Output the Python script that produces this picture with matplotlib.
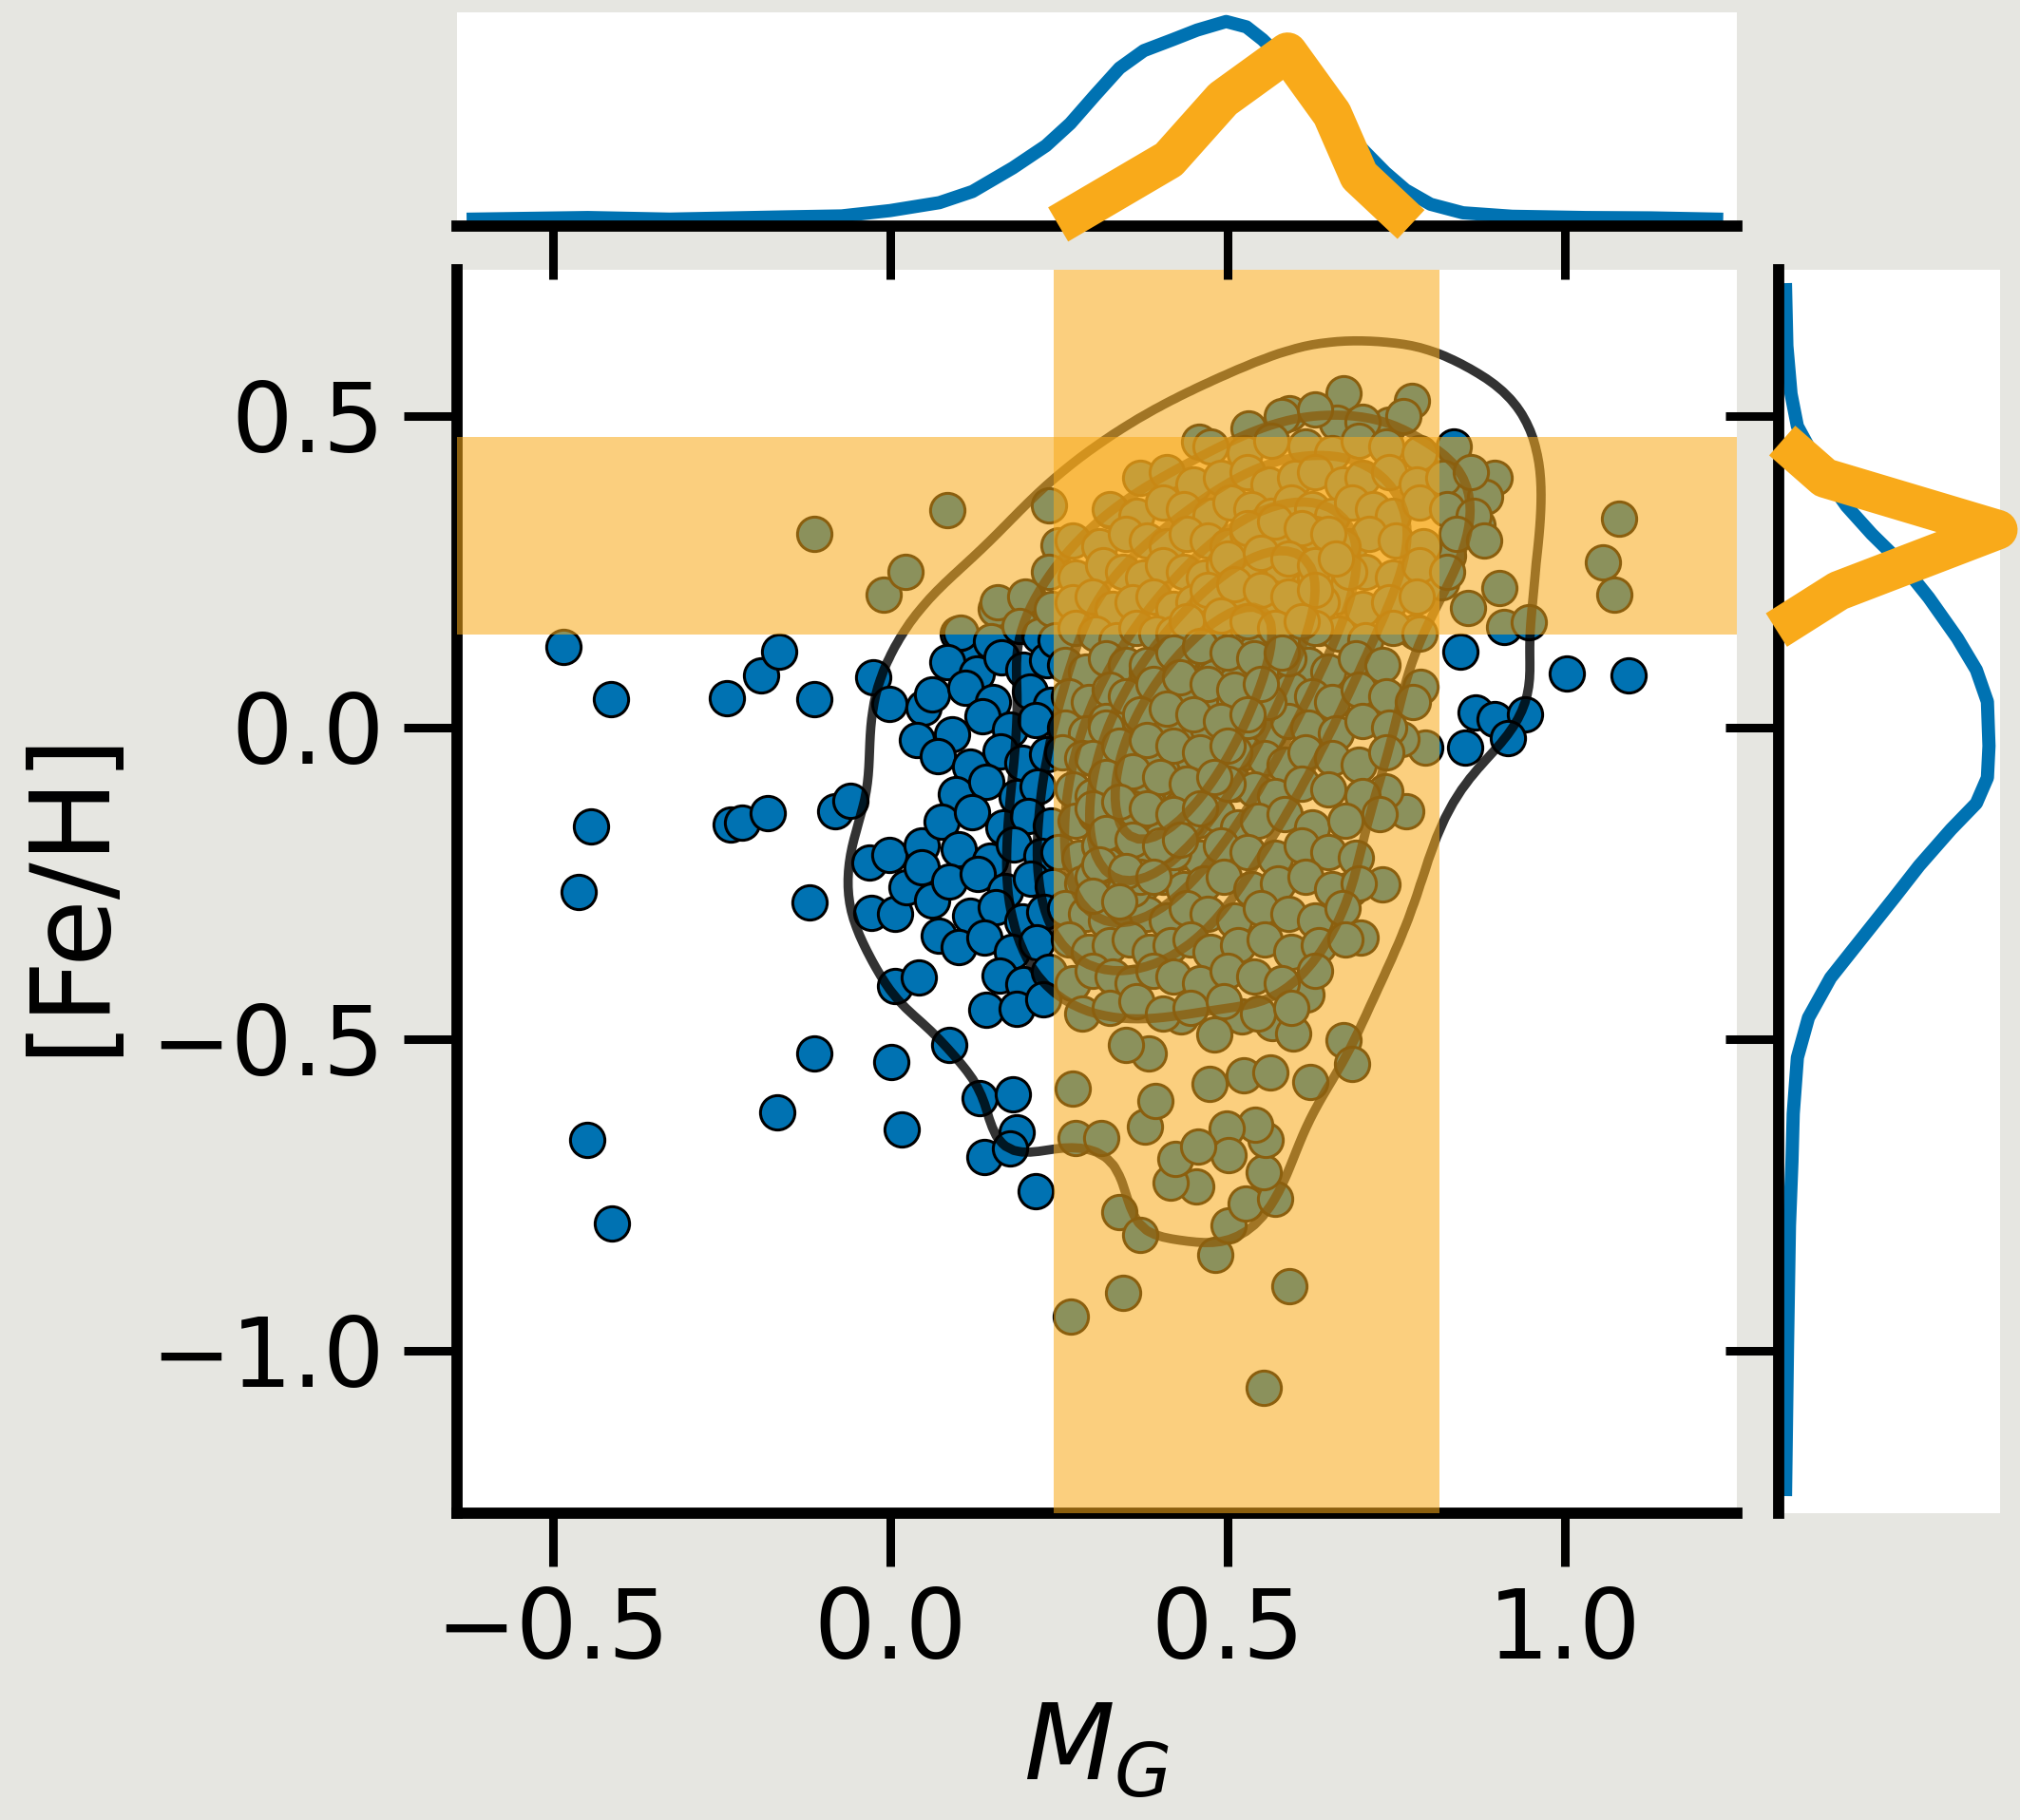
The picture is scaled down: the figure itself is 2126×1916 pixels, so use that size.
import numpy as np
import matplotlib
matplotlib.use("Agg")
import matplotlib.pyplot as plt

# ---- stars: (M_G, [Fe/H]) ----
halo_left = [(-0.484, 0.129), (-0.414, 0.045), (-0.443, -0.159), (-0.462, -0.264), (-0.449, -0.662),
             (-0.412, -0.796), (-0.242, 0.046), (-0.192, 0.083), (-0.165, 0.121), (-0.113, 0.045),
             (-0.237, -0.156), (-0.220, -0.153), (-0.182, -0.138), (-0.082, -0.135), (-0.059, -0.118),
             (-0.120, -0.281), (-0.113, -0.523), (-0.167, -0.618), (-0.025, 0.080), (-0.001, 0.037),
             (0.049, 0.031), (0.039, -0.020), (-0.031, -0.217), (-0.001, -0.205), (-0.028, -0.298),
             (0.007, -0.300), (0.024, -0.257), (0.046, -0.190), (0.046, -0.224), (0.062, -0.278),
             (0.072, -0.335), (0.007, -0.415), (0.042, -0.402), (0.087, -0.510), (0.001, -0.537),
             (0.017, -0.646), (0.132, -0.595), (0.140, -0.690), (0.143, -0.453), (0.182, -0.589),
             (0.187, -0.650), (0.177, -0.676), (0.216, -0.745), (0.107, 0.123), (0.100, 0.150)]
band_left = [(-0.113, 0.310), (-0.010, 0.213), (0.023, 0.250), (0.084, 0.349), (0.157, 0.190),
             (0.204, 0.208), (0.235, 0.356), (0.249, 0.292), (0.328, 0.347)]
halo_right = [(1.003, 0.086), (1.094, 0.083), (0.845, 0.121), (0.868, 0.024), (0.896, 0.013),
              (0.941, 0.020), (0.915, -0.017), (0.852, -0.033), (1.080, 0.335), (1.056, 0.264),
              (1.073, 0.213), (0.903, 0.223), (0.910, 0.161), (0.947, 0.168), (0.896, 0.400),
              (0.870, 0.324), (0.839, 0.370), (0.882, 0.369), (0.834, 0.440), (0.856, 0.191),
              (0.827, 0.275), (0.817, 0.232), (0.779, 0.153), (0.793, -0.033), (0.758, -0.019),
              (0.786, 0.065), (0.765, -0.134), (0.708, -0.117), (0.734, -0.103), (0.682, -0.259),
              (0.730, -0.252), (0.697, -0.338), (0.617, -0.429)]
halo_top = [(0.672, 0.536), (0.773, 0.524), (0.592, 0.504), (0.662, 0.489), (0.740, 0.486),
            (0.531, 0.479), (0.458, 0.458), (0.833, 0.440)]
halo_bottom = [(0.270, -0.580), (0.275, -0.659), (0.313, -0.659), (0.340, -0.778), (0.370, -0.815),
               (0.268, -0.946), (0.345, -0.908), (0.482, -0.847), (0.592, -0.896), (0.554, -1.060),
               (0.501, -0.799), (0.527, -0.764), (0.570, -0.756), (0.554, -0.714), (0.556, -0.662),
               (0.541, -0.638), (0.499, -0.643), (0.501, -0.687), (0.453, -0.736), (0.416, -0.731),
               (0.423, -0.693), (0.456, -0.673), (0.378, -0.641), (0.393, -0.600), (0.473, -0.572),
               (0.524, -0.559), (0.564, -0.554), (0.622, -0.569), (0.672, -0.502), (0.685, -0.540),
               (0.383, -0.524), (0.350, -0.510), (0.431, -0.464), (0.521, -0.464), (0.566, -0.475),
               (0.597, -0.491), (0.481, -0.493)]

# blue clump left of the M_G window (visible discs, little hidden overlap)
core_blue = [(0.16, 0.20), (0.20, 0.21), (0.105, 0.152), (0.150, 0.138), (0.192, 0.163), (0.222, 0.147),
             (0.085, 0.104), (0.128, 0.087), (0.165, 0.112), (0.198, 0.093), (0.232, 0.108),
             (0.062, 0.052), (0.112, 0.064), (0.152, 0.041), (0.207, 0.058), (0.238, 0.036),
             (0.092, -0.012), (0.137, 0.018), (0.178, -0.004), (0.215, 0.011),
             (0.071, -0.046), (0.118, -0.063), (0.163, -0.038), (0.196, -0.057), (0.232, -0.044),
             (0.098, -0.108), (0.142, -0.087), (0.187, -0.112), (0.218, -0.095),
             (0.076, -0.152), (0.121, -0.137), (0.168, -0.161), (0.205, -0.143), (0.238, -0.158),
             (0.102, -0.196), (0.148, -0.214), (0.183, -0.188), (0.224, -0.207),
             (0.088, -0.247), (0.130, -0.236), (0.171, -0.262), (0.209, -0.243), (0.241, -0.255),
             (0.118, -0.303), (0.157, -0.288), (0.196, -0.311), (0.229, -0.296),
             (0.101, -0.352), (0.139, -0.338), (0.181, -0.361), (0.217, -0.345),
             (0.162, -0.398), (0.198, -0.412), (0.236, -0.392), (0.188, -0.451), (0.227, -0.437)]
# crowded core inside the window (each disc here hides further stars underneath)
core_top = [(0.58, 0.50), (0.63, 0.51), (0.70, 0.49), (0.76, 0.50),
            (0.475, 0.45), (0.525, 0.44), (0.565, 0.46), (0.615, 0.45), (0.655, 0.44), (0.695, 0.46),
            (0.735, 0.45), (0.785, 0.44), (0.835, 0.45),
            (0.37, 0.40), (0.41, 0.41), (0.45, 0.39), (0.49, 0.40), (0.53, 0.41), (0.56, 0.39),
            (0.60, 0.40), (0.63, 0.41), (0.67, 0.39), (0.70, 0.40), (0.74, 0.41), (0.78, 0.39),
            (0.82, 0.40), (0.86, 0.41),
            (0.325, 0.35), (0.365, 0.34), (0.405, 0.36), (0.435, 0.35), (0.475, 0.34), (0.505, 0.36),
            (0.535, 0.35), (0.565, 0.34), (0.595, 0.36), (0.625, 0.35), (0.655, 0.34), (0.685, 0.36),
            (0.715, 0.35), (0.745, 0.34), (0.785, 0.36), (0.825, 0.35), (0.865, 0.34),
            (0.27, 0.30), (0.31, 0.29), (0.35, 0.31), (0.38, 0.30), (0.41, 0.29), (0.44, 0.31),
            (0.47, 0.30), (0.50, 0.29), (0.53, 0.31), (0.56, 0.30), (0.59, 0.29), (0.62, 0.31),
            (0.65, 0.30), (0.68, 0.29), (0.71, 0.31), (0.75, 0.30), (0.79, 0.29), (0.84, 0.31),
            (0.88, 0.30),
            (0.235, 0.25), (0.275, 0.24), (0.315, 0.26), (0.345, 0.25), (0.375, 0.24), (0.405, 0.26),
            (0.435, 0.25), (0.465, 0.24), (0.495, 0.26), (0.525, 0.25), (0.555, 0.24), (0.585, 0.26),
            (0.615, 0.25), (0.645, 0.24), (0.675, 0.26), (0.705, 0.25), (0.745, 0.24), (0.785, 0.26),
            (0.825, 0.25),
            (0.24, 0.19), (0.27, 0.20), (0.30, 0.21), (0.33, 0.19),
            (0.36, 0.20), (0.39, 0.21), (0.42, 0.19), (0.45, 0.20), (0.48, 0.21), (0.51, 0.19),
            (0.54, 0.20), (0.57, 0.21), (0.60, 0.19), (0.63, 0.20), (0.66, 0.21), (0.70, 0.19),
            (0.74, 0.20), (0.78, 0.21)]
core_mid = [(0.245, 0.14), (0.275, 0.16),
            (0.305, 0.15), (0.335, 0.14), (0.365, 0.16), (0.395, 0.15), (0.425, 0.14), (0.455, 0.16),
            (0.485, 0.15), (0.515, 0.14), (0.545, 0.16), (0.575, 0.15), (0.605, 0.14), (0.635, 0.16),
            (0.665, 0.15), (0.705, 0.14), (0.745, 0.16), (0.785, 0.15),
            (0.26, 0.10), (0.29, 0.09), (0.32, 0.11), (0.35, 0.10), (0.38, 0.09), (0.41, 0.11),
            (0.44, 0.10), (0.47, 0.09), (0.50, 0.11), (0.53, 0.10), (0.56, 0.09), (0.59, 0.11),
            (0.62, 0.10), (0.65, 0.09), (0.69, 0.11), (0.73, 0.10),
            (0.265, 0.05), (0.295, 0.04),
            (0.325, 0.06), (0.355, 0.05), (0.385, 0.04), (0.415, 0.06), (0.445, 0.05), (0.475, 0.04),
            (0.505, 0.06), (0.535, 0.05), (0.565, 0.04), (0.595, 0.06), (0.625, 0.05), (0.655, 0.04),
            (0.695, 0.06), (0.735, 0.05), (0.775, 0.04),
            (0.26, 0.00), (0.29, -0.01), (0.32, 0.01), (0.35, 0.00), (0.38, -0.01), (0.41, 0.01),
            (0.44, 0.00), (0.47, -0.01), (0.50, 0.01), (0.53, 0.00), (0.56, -0.01), (0.59, 0.01),
            (0.62, 0.00), (0.66, -0.01), (0.70, 0.01), (0.74, 0.00),
            (0.255, -0.04), (0.285, -0.05),
            (0.315, -0.06), (0.345, -0.04), (0.375, -0.05), (0.405, -0.06), (0.435, -0.04),
            (0.465, -0.05), (0.495, -0.06), (0.525, -0.04), (0.555, -0.05), (0.585, -0.06),
            (0.615, -0.04), (0.655, -0.05), (0.695, -0.06), (0.735, -0.04),
            (0.27, -0.10), (0.30, -0.11), (0.33, -0.09), (0.36, -0.10), (0.39, -0.11), (0.42, -0.09),
            (0.45, -0.10), (0.48, -0.11), (0.51, -0.09), (0.54, -0.10), (0.57, -0.11), (0.61, -0.09),
            (0.65, -0.10), (0.70, -0.11)]
core_low = [(0.275, -0.15),
            (0.305, -0.14), (0.335, -0.16), (0.365, -0.15), (0.395, -0.14), (0.425, -0.16),
            (0.455, -0.15), (0.485, -0.14), (0.515, -0.16), (0.545, -0.15), (0.585, -0.14),
            (0.625, -0.16), (0.675, -0.15), (0.725, -0.14),
            (0.25, -0.20), (0.28, -0.21), (0.31, -0.19), (0.34, -0.20), (0.37, -0.21), (0.40, -0.19),
            (0.43, -0.20), (0.46, -0.21), (0.49, -0.19), (0.53, -0.20), (0.57, -0.21), (0.61, -0.19),
            (0.65, -0.20), (0.69, -0.21),
            (0.285, -0.25),
            (0.315, -0.24), (0.345, -0.26), (0.375, -0.25), (0.405, -0.24), (0.435, -0.26),
            (0.465, -0.25), (0.495, -0.24), (0.535, -0.26), (0.575, -0.25), (0.615, -0.24),
            (0.655, -0.26), (0.695, -0.25),
            (0.26, -0.29),
            (0.29, -0.30), (0.32, -0.31), (0.35, -0.29), (0.38, -0.30), (0.41, -0.31), (0.44, -0.29),
            (0.47, -0.30), (0.51, -0.31), (0.55, -0.29), (0.59, -0.30), (0.63, -0.31), (0.67, -0.29),
            (0.265, -0.34), (0.295, -0.36),
            (0.325, -0.35), (0.355, -0.34), (0.385, -0.36), (0.415, -0.35), (0.445, -0.34),
            (0.475, -0.36), (0.515, -0.35), (0.555, -0.34), (0.595, -0.36), (0.635, -0.35),
            (0.675, -0.34),
            (0.27, -0.41), (0.30, -0.39),
            (0.33, -0.40), (0.36, -0.41), (0.39, -0.39), (0.42, -0.40), (0.46, -0.41), (0.50, -0.39),
            (0.54, -0.40), (0.58, -0.41), (0.63, -0.39),
            (0.285, -0.46), (0.325, -0.45), (0.365, -0.44),
            (0.405, -0.46), (0.445, -0.45), (0.495, -0.44), (0.545, -0.46), (0.595, -0.45)]
core_peak = [(0.58, 0.30), (0.63, 0.31), (0.67, 0.29), (0.53, 0.25), (0.58, 0.26), (0.63, 0.24),
             (0.68, 0.25), (0.47, 0.20), (0.53, 0.21), (0.58, 0.19), (0.64, 0.20), (0.42, 0.15),
             (0.47, 0.16), (0.52, 0.14), (0.58, 0.15), (0.63, 0.16), (0.38, 0.10), (0.43, 0.11),
             (0.48, 0.09), (0.53, 0.10), (0.59, 0.11), (0.35, 0.05), (0.40, 0.04), (0.45, 0.06),
             (0.50, 0.05), (0.56, 0.04), (0.32, 0.00), (0.37, 0.01), (0.43, -0.01), (0.48, 0.00),
             (0.53, 0.01), (0.30, -0.05), (0.35, -0.04), (0.41, -0.06), (0.46, -0.05), (0.51, -0.04),
             (0.34, -0.09), (0.39, -0.11), (0.45, -0.10), (0.50, -0.09),
             (0.33, -0.14), (0.38, -0.16), (0.44, -0.15), (0.31, -0.19), (0.37, -0.21),
             (0.42, -0.20), (0.30, -0.24), (0.36, -0.26),
             (0.40, -0.06), (0.44, 0.00), (0.47, 0.05), (0.42, -0.10), (0.38, -0.14), (0.50, 0.10),
             (0.45, -0.04), (0.40, 0.02), (0.36, -0.08), (0.52, 0.14), (0.48, -0.02), (0.43, 0.06)]
core_ridge = [(0.32, -0.22), (0.35, -0.16), (0.38, -0.11), (0.41, -0.05), (0.44, 0.00), (0.47, 0.05),
              (0.50, 0.11), (0.53, 0.16), (0.56, 0.21), (0.31, -0.14), (0.34, -0.09),
              (0.37, -0.03), (0.40, 0.02), (0.43, 0.07), (0.46, 0.13), (0.49, 0.18), (0.37, -0.24),
              (0.40, -0.18), (0.43, -0.13), (0.46, -0.07), (0.49, -0.02), (0.52, 0.03), (0.55, 0.09),
              (0.58, 0.14), (0.38, -0.12), (0.40, -0.08), (0.42, -0.04), (0.44, 0.01), (0.46, 0.04),
              (0.48, 0.08), (0.41, -0.01), (0.45, -0.05), (0.43, 0.04), (0.39, -0.04), (0.47, 0.00),
              (0.44, -0.09), (0.51, 0.07), (0.36, -0.13), (0.54, 0.12)]
core_dense = [(0.53, 0.32), (0.57, 0.33), (0.61, 0.32), (0.65, 0.31),
              (0.50, 0.27), (0.55, 0.28), (0.59, 0.27), (0.63, 0.26), (0.66, 0.27),
              (0.47, 0.22), (0.51, 0.23), (0.55, 0.22), (0.59, 0.21), (0.63, 0.22),
              (0.44, 0.17), (0.49, 0.18), (0.53, 0.17), (0.57, 0.16), (0.61, 0.17),
              (0.42, 0.12), (0.46, 0.13), (0.50, 0.12), (0.54, 0.11), (0.58, 0.12),
              (0.39, 0.07), (0.43, 0.08), (0.47, 0.07), (0.51, 0.06), (0.55, 0.07),
              (0.37, 0.02), (0.41, 0.03), (0.45, 0.02), (0.49, 0.01), (0.53, 0.02),
              (0.34, -0.03), (0.38, -0.02), (0.42, -0.03), (0.46, -0.04), (0.50, -0.03),
              (0.32, -0.08), (0.36, -0.07), (0.40, -0.08), (0.44, -0.09), (0.48, -0.08),
              (0.30, -0.13), (0.34, -0.12), (0.38, -0.13), (0.42, -0.14), (0.46, -0.13),
              (0.32, -0.17), (0.36, -0.18), (0.40, -0.19), (0.43, -0.18),
              (0.31, -0.22), (0.35, -0.23), (0.39, -0.24), (0.30, -0.27), (0.34, -0.28)]

# ---- marginal curves ----
top_x = [-0.618, -0.448, -0.327, -0.157, -0.072, 0.000, 0.073, 0.122, 0.182, 0.231, 0.267, 0.304,
         0.340, 0.376, 0.419, 0.455, 0.498, 0.528, 0.552, 0.583, 0.613, 0.643, 0.673, 0.704,
         0.734, 0.764, 0.801, 0.849, 0.922, 1.031, 1.128, 1.225]
top_dens = [0.078, 0.096, 0.078, 0.103, 0.114, 0.174, 0.263, 0.388, 0.654, 0.903, 1.152, 1.472,
            1.774, 1.970, 2.094, 2.201, 2.297, 2.237, 2.094, 1.863, 1.614, 1.330, 1.081, 0.832,
            0.601, 0.405, 0.245, 0.149, 0.110, 0.096, 0.092, 0.078]
top_sel_x = [0.249, 0.413, 0.493, 0.589, 0.655, 0.695, 0.772]
top_sel_dens = [0.018, 0.747, 1.426, 1.952, 1.259, 0.565, 0.018]

right_y = [0.702, 0.612, 0.535, 0.483, 0.413, 0.355, 0.310, 0.265, 0.208, 0.143, 0.092, 0.041,
           -0.030, -0.081, -0.122, -0.164, -0.222, -0.274, -0.338, -0.402, -0.466, -0.530,
           -0.620, -0.697, -0.800, -0.992, -1.223]
right_dens = [0.075, 0.089, 0.134, 0.203, 0.460, 0.735, 1.009, 1.318, 1.627, 1.937, 2.143, 2.263,
              2.280, 2.263, 2.143, 1.868, 1.524, 1.250, 0.906, 0.563, 0.323, 0.203,
              0.158, 0.144, 0.117, 0.096, 0.075]
right_sel_y = [0.460, 0.400, 0.317, 0.219, 0.156]
right_sel_dens = [0.038, 0.50, 2.376, 0.649, -0.024]

# selection windows
mg_window = (0.242, 0.814)
feh_window = (0.149, 0.466)

BLUE = "#0072B2"
ORANGE = "#F9AA1A"
BG = "#e6e6e1"

sparse = halo_left + band_left + halo_right + halo_top + halo_bottom + core_blue
crowded = core_top + core_mid + core_low
crowded_center = core_peak + core_ridge + core_dense
pts = np.array(sparse + crowded + crowded_center)
wts = np.r_[np.ones(len(sparse)), np.full(len(crowded), 2.0), np.full(len(crowded_center), 3.0)]
mg, feh = pts[:, 0], pts[:, 1]

# weighted gaussian kde (scott bandwidth), like seaborn's kdeplot
gx = np.linspace(-0.8, 1.4, 180)
gy = np.linspace(-1.4, 0.9, 180)
XX, YY = np.meshgrid(gx, gy)
wn = wts / wts.sum()
neff = 1.0 / np.sum(wn ** 2)
kcov = np.cov(pts.T, aweights=wts) * neff ** (-1.0 / 3)
inv = np.linalg.inv(kcov)
Z = np.zeros_like(XX)
for (px, py), w in zip(pts, wn):
    dx = XX - px
    dy = YY - py
    Z += w * np.exp(-0.5 * (inv[0, 0] * dx * dx + 2 * inv[0, 1] * dx * dy + inv[1, 1] * dy * dy))
Z /= 2 * np.pi * np.sqrt(np.linalg.det(kcov))

isoprop = np.array([0.05, 0.2, 0.35, 0.5, 0.65, 0.8])
vals = np.sort(Z.ravel())[::-1]
cum = np.cumsum(vals) / vals.sum()
levels = np.sort(vals[np.clip(np.searchsorted(cum, 1 - isoprop), 0, len(vals) - 1)])

W, H, DPI = 2126, 1916, 100
fig = plt.figure(figsize=(W / DPI, H / DPI), dpi=DPI, facecolor=BG)

ax = fig.add_axes([481 / W, 1 - 1593 / H, (1828 - 481) / W, (1593 - 284) / H])
ax_top = fig.add_axes([481 / W, 1 - 238 / H, (1828 - 481) / W, (238 - 13) / H], sharex=ax)
ax_right = fig.add_axes([1872 / W, 1 - 1593 / H, (2105 - 1872) / W, (1593 - 284) / H], sharey=ax)

for a in (ax, ax_top, ax_right):
    a.set_facecolor("white")
    for s in a.spines.values():
        s.set_linewidth(8.5)
    a.tick_params(length=40, width=6.5, direction="out", labelsize=73, pad=15)

ax.scatter(mg, feh, s=680, c=BLUE, edgecolors="black", linewidths=2.2, zorder=2)
ax.contour(gx, gy, Z, levels=levels, colors="black", linewidths=7, alpha=0.8, zorder=3)
ax.axvspan(*mg_window, color=ORANGE, alpha=0.56, lw=0, zorder=4)
ax.axhspan(*feh_window, color=ORANGE, alpha=0.56, lw=0, zorder=4)

ax.set_xlim(-0.642, 1.255)
ax.set_ylim(-1.261, 0.734)
ax.set_xticks([-0.5, 0.0, 0.5, 1.0])
ax.set_yticks([-1.0, -0.5, 0.0, 0.5])
ax.spines["top"].set_visible(False)
ax.spines["right"].set_visible(False)
ax.set_xlabel("$M_G$", fontsize=80, labelpad=15)
ax.set_ylabel("[Fe/H]", fontsize=83, labelpad=20)

ax_top.plot(top_x, top_dens, color=BLUE, lw=10, solid_joinstyle="round")
ax_top.plot(top_sel_x, top_sel_dens, color=ORANGE, lw=30, solid_capstyle="butt",
            solid_joinstyle="round", clip_on=False, zorder=5)
ax_top.set_ylim(0, 2.4)
for side in ("top", "left", "right"):
    ax_top.spines[side].set_visible(False)
ax_top.tick_params(axis="x", labelbottom=False)
ax_top.tick_params(axis="y", left=False, labelleft=False)

ax_right.plot(right_dens, right_y, color=BLUE, lw=10, solid_joinstyle="round")
ax_right.plot(right_sel_dens, right_sel_y, color=ORANGE, lw=30, solid_capstyle="butt",
              solid_joinstyle="round", clip_on=False, zorder=5)
ax_right.set_xlim(0, 2.4)
for side in ("top", "bottom", "right"):
    ax_right.spines[side].set_visible(False)
ax_right.tick_params(axis="y", labelleft=False)
ax_right.tick_params(axis="x", bottom=False, labelbottom=False)

fig.savefig("out.png", dpi=DPI, facecolor=BG)
